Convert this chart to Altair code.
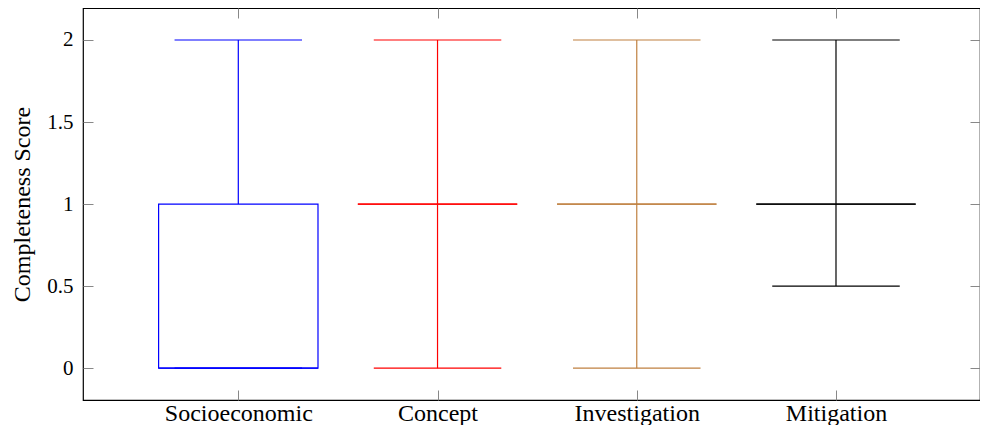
import json
import altair as alt
import pandas as pd

# ---- data ----
categories = ["Socioeconomic", "Concept", "Investigation", "Mitigation"]
positions = [1, 2, 3, 4]
whisker_low = [0, 0, 0, 0.5]
q1 = [0, 1, 1, 1]
median = [0, 1, 1, 1]
q3 = [1, 1, 1, 1]
whisker_high = [2, 2, 2, 2]
colors = ["#0000ff", "#ff0000", "#bf8040", "#000000"]
y_ticks = [0, 0.5, 1, 1.5, 2]
y_title = "Completeness Score"

df = pd.DataFrame({
    "cat": categories,
    "pos": positions,
    "lo": whisker_low,
    "q1": q1,
    "med": median,
    "q3": q3,
    "hi": whisker_high,
})

# ---- style ----
FONT = "Liberation Serif"
W, H = 897, 392
X_DOMAIN = [0.2205, 4.7228]
Y_DOMAIN = [-0.194, 2.195]
HALF_BOX = 0.4
HALF_CAP = 0.32
TICK = 10
TICK_COLOR = "#888888"
LW = 1.2

xs = alt.Scale(domain=X_DOMAIN, nice=False, zero=False)
ys = alt.Scale(domain=Y_DOMAIN, nice=False, zero=False)
stroke = alt.Stroke("cat:N", scale=alt.Scale(domain=categories, range=colors), legend=None)

label_expr = f"{json.dumps(categories)}[datum.value - 1]"

common_axis = dict(domain=False, grid=False, tickSize=TICK, offset=-TICK,
                   tickColor=TICK_COLOR, tickWidth=1)

x_bottom = alt.Axis(orient="bottom", values=positions, labelExpr=label_expr,
                    labelFont=FONT, labelFontSize=24, labelColor="black",
                    labelPadding=1, title=None, **common_axis)
y_left = alt.Axis(orient="left", values=y_ticks, format="~g",
                  labelFont=FONT, labelFontSize=21, labelColor="black",
                  labelPadding=10, title=y_title, titleFont=FONT,
                  titleFontSize=24, titleFontWeight="normal", titleColor="black",
                  titleAngle=-90, titleX=-71, titleY=H / 2,
                  titleAlign="center", titleBaseline="middle", **common_axis)
x_top = alt.Axis(orient="top", values=positions, labels=False, title=None, **common_axis)
y_right = alt.Axis(orient="right", values=y_ticks, labels=False, title=None, **common_axis)

base = alt.Chart(df).transform_calculate(
    bx1=f"datum.pos - {HALF_BOX}", bx2=f"datum.pos + {HALF_BOX}",
    cx1=f"datum.pos - {HALF_CAP}", cx2=f"datum.pos + {HALF_CAP}",
)

box = base.mark_rect(fillOpacity=0, strokeWidth=LW).encode(
    x=alt.X("bx1:Q", scale=xs, axis=x_bottom),
    x2="bx2:Q",
    y=alt.Y("q1:Q", scale=ys, axis=y_left),
    y2="q3:Q",
    stroke=stroke,
)

med = base.mark_rule(strokeWidth=LW).encode(
    x=alt.X("bx1:Q", scale=xs, axis=x_top),
    x2="bx2:Q",
    y=alt.Y("med:Q", scale=ys, axis=y_right),
    stroke=stroke,
)

whiskers = base.transform_fold(["lo", "hi"], as_=["side", "v"]).transform_calculate(
    wy1="datum.side == 'lo' ? datum.lo : datum.q3",
    wy2="datum.side == 'lo' ? datum.q1 : datum.hi",
).mark_rule(strokeWidth=LW).encode(
    x=alt.X("pos:Q", scale=xs, axis=None),
    y=alt.Y("wy1:Q", scale=ys, axis=None),
    y2="wy2:Q",
    stroke=stroke,
)

caps = base.transform_fold(["lo", "hi"], as_=["side", "v"]).mark_rule(strokeWidth=LW).encode(
    x=alt.X("cx1:Q", scale=xs, axis=None),
    x2="cx2:Q",
    y=alt.Y("v:Q", scale=ys, axis=None),
    stroke=stroke,
)

chart = alt.layer(box, med, whiskers, caps).resolve_axis(
    x="independent", y="independent"
).properties(
    width=W, height=H,
    autosize=alt.AutoSizeParams(type="none"),
    padding={"left": 75, "top": 0, "right": 0, "bottom": 25},
).configure(background="white").configure_view(stroke="black", strokeWidth=1.2)

chart.save("out.html", embed_options={"renderer": "svg", "actions": False})
